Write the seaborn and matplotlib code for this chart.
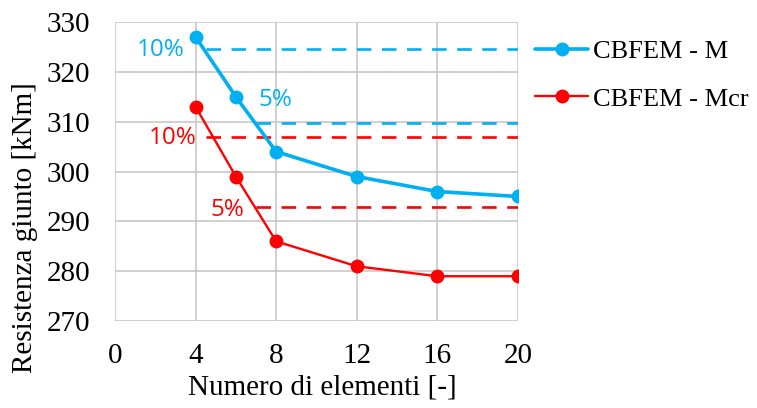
import matplotlib
matplotlib.use("Agg")
import matplotlib.pyplot as plt
import seaborn as sns
import pandas as pd

# Number of elements along the plate
elements = [4, 6, 8, 12, 16, 20]
# Joint resistance [kNm]
res_m = [327, 315, 304, 299, 296, 295]
res_mcr = [313, 299, 286, 281, 279, 279]

series_names = ["CBFEM - M", "CBFEM - Mcr"]
x_ticks = [0, 4, 8, 12, 16, 20]
y_ticks = [270, 280, 290, 300, 310, 320, 330]

# Tolerance bands on the converged value (last point)
tol_labels = ["10%", "5%"]
tol_factors = [1.10, 1.05]
tol_start = [4.5, 7.0]

blue = "#00B0F0"
red = "#FF0000"

sns.set_theme(style="white")
plt.rcParams["font.family"] = ["Liberation Serif", "DejaVu Serif"]
plt.rcParams["text.color"] = "black"
plt.rcParams["axes.labelcolor"] = "black"

df = pd.DataFrame({
    "n": elements * 2,
    "R": res_m + res_mcr,
    "serie": [series_names[0]] * len(elements) + [series_names[1]] * len(elements),
})

fig = plt.figure(figsize=(7.57, 4.08), dpi=100)
ax = fig.add_axes([0.152, 0.213, 0.532, 0.733])

ax.set_xlim(0, 20)
ax.set_ylim(270, 330)
ax.set_xticks(x_ticks)
ax.set_yticks(y_ticks)
ax.grid(True, color="#C4C4C4", linewidth=1.1)
ax.set_axisbelow(True)
for s in ax.spines.values():
    s.set_visible(False)

# Tolerance lines and labels
label_pos = {
    (0, 0): (2.27, 324.4), (0, 1): (7.94, 314.3),
    (1, 0): (2.88, 306.7), (1, 1): (5.56, 292.3),
}
for si, (vals, col) in enumerate([(res_m, blue), (res_mcr, red)]):
    final = vals[-1]
    for ti, (lab, f, x0) in enumerate(zip(tol_labels, tol_factors, tol_start)):
        ax.plot([x0, 20], [final * f, final * f], color=col, lw=1.9,
                linestyle=(0, (5.5, 4)), zorder=2)
        tx, ty = label_pos[(si, ti)]
        ax.text(tx, ty, lab, color=col, fontsize=17.5, family="Open Sans",
                ha="center", va="center", zorder=3)

sns.lineplot(data=df[df.serie == series_names[0]], x="n", y="R", ax=ax,
             color=blue, lw=2.6, marker="o", markersize=10,
             markeredgewidth=0, label=series_names[0], zorder=4)
sns.lineplot(data=df[df.serie == series_names[1]], x="n", y="R", ax=ax,
             color=red, lw=1.7, marker="o", markersize=10,
             markeredgewidth=0, label=series_names[1], zorder=4)

ax.tick_params(axis="x", length=0, labelsize=21, colors="black", pad=16)
ax.tick_params(axis="y", length=0, labelsize=21, colors="black", pad=18)
ax.set_xlabel("Numero di elementi [-]", fontsize=21, va="center")
ax.xaxis.set_label_coords(0.514, -0.222)
ax.set_ylabel("Resistenza giunto [kNm]", fontsize=21, va="center")
ax.yaxis.set_label_coords(-0.223, 0.311)

ax.legend(loc="upper left", bbox_to_anchor=(0.707, 0.902),
          bbox_transform=fig.transFigure, frameon=False,
          fontsize=19, handlelength=2.0, handletextpad=0.19,
          labelspacing=0.9, borderpad=0, borderaxespad=0)

fig.savefig("out.png", dpi=100)
